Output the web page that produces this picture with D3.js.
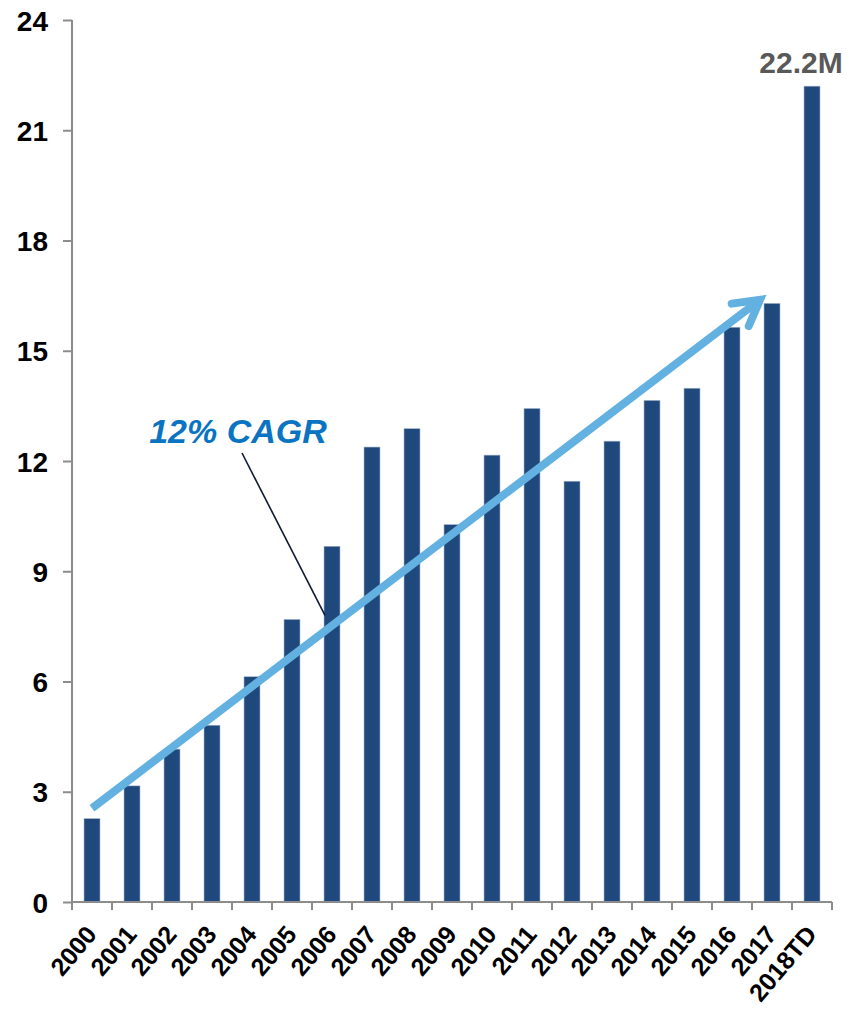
<!DOCTYPE html>
<html>
<head>
<meta charset="utf-8">
<script src="https://cdn.jsdelivr.net/npm/d3@7"></script>
<style>
  body { margin: 0; background: #fff; }
  text { font-family: "Liberation Sans", Arial, sans-serif; }
</style>
</head>
<body>
<svg id="chart" width="847" height="1009"></svg>
<script>
// data (millions)
var years = ["2000","2001","2002","2003","2004","2005","2006","2007","2008","2009",
             "2010","2011","2012","2013","2014","2015","2016","2017","2018TD"];
var values = [2.27, 3.16, 4.16, 4.81, 6.13, 7.69, 9.68, 12.38, 12.88, 10.27,
              12.16, 13.43, 11.45, 12.54, 13.65, 13.98, 15.64, 16.29, 22.2];
var yTicks = [0, 3, 6, 9, 12, 15, 18, 21, 24];
var lastLabel = "22.2M";
var cagrLabel = "12% CAGR";
// trend arrow ends: [year, value]
var arrowFrom = ["2000", 2.55];
var arrowTo = ["2017", 16.47];

var svg = d3.select("#chart");

var x = d3.scaleBand()
    .domain(years)
    .range([72, 832])
    .paddingInner(0.6)
    .paddingOuter(0.3);

var y = d3.scaleLinear()
    .domain([0, 24])
    .range([902, 20]);

var axisColor = "#8c8c8c";

// bars
svg.append("g")
  .selectAll("rect")
  .data(values)
  .enter().append("rect")
    .attr("x", function(d, i){ return x(years[i]); })
    .attr("y", function(d){ return y(d); })
    .attr("width", x.bandwidth())
    .attr("height", function(d){ return y(0) - y(d); })
    .attr("fill", "#1f497d")
    .attr("stroke", "#a9bad2")
    .attr("stroke-width", 0.6);

// y axis
var yAxis = svg.append("g")
    .attr("transform", "translate(72,0)")
    .call(d3.axisLeft(y).tickValues(yTicks).tickSize(9).tickPadding(15).tickFormat(d3.format("d")));
yAxis.select(".domain").attr("stroke", axisColor).attr("stroke-width", 2).attr("d", "M0," + y(24) + "V" + y(0));
yAxis.selectAll(".tick line").attr("stroke", axisColor).attr("stroke-width", 2);
yAxis.selectAll(".tick text")
    .attr("fill", "#000")
    .attr("font-size", 28)
    .attr("font-weight", "bold")
    .attr("dy", "0.36em");

// x axis line + boundary ticks
var half = (x.step() - x.bandwidth()) / 2;
var bounds = years.map(function(d){ return x(d) - half; }).concat([x.range()[1]]);
var xAxis = svg.append("g");
xAxis.append("line")
    .attr("x1", x.range()[0]).attr("x2", x.range()[1])
    .attr("y1", y(0)).attr("y2", y(0))
    .attr("stroke", axisColor).attr("stroke-width", 2);
xAxis.selectAll("line.tk")
  .data(bounds)
  .enter().append("line")
    .attr("class", "tk")
    .attr("x1", function(d){ return d; }).attr("x2", function(d){ return d; })
    .attr("y1", y(0)).attr("y2", y(0) + 8)
    .attr("stroke", axisColor).attr("stroke-width", 2);
xAxis.selectAll("text")
  .data(years)
  .enter().append("text")
    .attr("transform", function(d){
        return "translate(" + (x(d) + x.bandwidth()/2 + 6) + "," + (y(0) + 33) + ") rotate(-50)";
    })
    .attr("text-anchor", "end")
    .attr("font-size", 25)
    .attr("font-weight", "bold")
    .attr("fill", "#000")
    .text(function(d){ return d; });

// value label on last bar
svg.append("text")
    .attr("x", x(years[years.length-1]) + x.bandwidth()/2 - 11)
    .attr("y", y(values[values.length-1]) - 13)
    .attr("text-anchor", "middle")
    .attr("font-size", 30)
    .attr("font-weight", "bold")
    .attr("fill", "#595959")
    .text(lastLabel);

// CAGR arrow
var ax1 = x(arrowFrom[0]) + x.bandwidth()/2, ay1 = y(arrowFrom[1]);
var ax2 = x(arrowTo[0]) + x.bandwidth()/2 - 8, ay2 = y(arrowTo[1]);
var ang = Math.atan2(ay2 - ay1, ax2 - ax1);
var barb = 33, spread = 0.44;
var arrowColor = "#63b1e1";
svg.append("line")
    .attr("x1", ax1).attr("y1", ay1)
    .attr("x2", ax2 - 8*Math.cos(ang)).attr("y2", ay2 - 8*Math.sin(ang))
    .attr("stroke", arrowColor).attr("stroke-width", 8);
svg.append("path")
    .attr("d", "M" + (ax2 - barb*Math.cos(ang - spread)) + "," + (ay2 - barb*Math.sin(ang - spread)) +
               "L" + (ax2 - 5*Math.cos(ang)) + "," + (ay2 - 5*Math.sin(ang)) +
               "L" + (ax2 - barb*Math.cos(ang + spread)) + "," + (ay2 - barb*Math.sin(ang + spread)))
    .attr("fill", "none")
    .attr("stroke", arrowColor)
    .attr("stroke-width", 8)
    .attr("stroke-linecap", "round")
    .attr("stroke-linejoin", "miter")
    .attr("stroke-miterlimit", 10);

// CAGR callout
svg.append("line")
    .attr("x1", 242).attr("y1", 453)
    .attr("x2", x("2006") + 1).attr("y2", y(7.8))
    .attr("stroke", "#0d1b33").attr("stroke-width", 1.6);
svg.append("text")
    .attr("x", 238)
    .attr("y", 443)
    .attr("text-anchor", "middle")
    .attr("font-size", 34)
    .attr("font-weight", "bold")
    .attr("font-style", "italic")
    .attr("fill", "#0a74c2")
    .text(cagrLabel);
</script>
</body>
</html>
